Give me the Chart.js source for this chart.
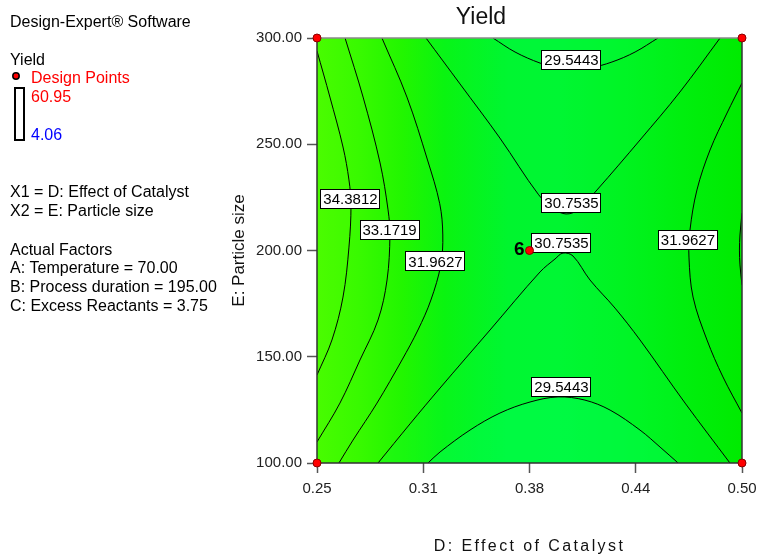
<!DOCTYPE html>
<html>
<head>
<meta charset="utf-8">
<script src="https://cdn.jsdelivr.net/npm/chart.js@4.4.1/dist/chart.umd.min.js"></script>
<style>
  html, body { margin: 0; padding: 0; background: #fff; }
  #wrap { width: 758px; height: 557px; }
</style>
</head>
<body>
<div id="wrap"><canvas id="yieldChart" width="758" height="557"></canvas></div>
<script>
// factor ranges: D = Effect of Catalyst (x), E = Particle size (y)
var xRange = [0.25, 0.50];
var yRange = [100, 300];
var xTicks = [0.25, 0.3125, 0.375, 0.4375, 0.50];
var xTickLabels = ["0.25", "0.31", "0.38", "0.44", "0.50"];
var yTicks = [100, 150, 200, 250, 300];
var yTickLabels = ["100.00", "150.00", "200.00", "250.00", "300.00"];

// design points [D, E] and number of runs at each
var designPoints = [[0.25, 100], [0.25, 300], [0.50, 100], [0.50, 300], [0.375, 200]];
var designRuns = [1, 1, 1, 1, 6];

// contour levels of Yield
var levels = [29.5443, 30.7535, 31.9627, 33.1719, 34.3812];

// contour traces [D, E]
var c34_38 = [[0.25,293.9],[0.2576,272.2],[0.2653,248.7],[0.2688,233.2],[0.2700,221.4],[0.2688,201.6],[0.2653,178.1],[0.2588,157.9],[0.25,141.4]];
var c33_17 = [[0.2665,300],[0.2771,272.2],[0.2871,241.2],[0.2918,219.1],[0.2929,207.3],[0.2912,186.1],[0.2859,167.3],[0.2753,148.5],[0.2635,128.2],[0.25,109.9]];
var c33_17R = [[0.5,217.6],[0.4988,207.3],[0.4985,200.2],[0.4988,193.2],[0.5,183.8]];
var c31_96 = [[0.2882,300],[0.3029,272.2],[0.3150,242.6],[0.3222,222.0],[0.3240,207.3],[0.3228,193.2],[0.3170,176.7],[0.3094,162.6],[0.3000,148.5],[0.2853,128.2],[0.2712,110.8],[0.2629,100]];
var c31_96R = [[0.5,278.8],[0.4912,264.7],[0.4812,247.3],[0.4735,228.5],[0.4694,209.6],[0.4688,196.9],[0.4712,178.1],[0.4794,157.9],[0.4888,140.5],[0.5,123.5]];
var c30_75T = [[0.3141,300],[0.3341,278.4],[0.3576,252.9],[0.3804,226.2],[0.3894,219.5],[0.3965,217.2],[0.4035,219.1],[0.4147,228.5],[0.4400,252.0],[0.4635,274.6],[0.4871,300]];
var c30_75B = [[0.2859,100],[0.3047,118.4],[0.3224,135.3],[0.3518,162.6],[0.3812,189.9],[0.3900,196.0],[0.3947,198.8],[0.4006,197.4],[0.4106,186.1],[0.4253,172.9],[0.4400,157.9],[0.4665,128.2],[0.4929,100]];
var c29_54T = [[0.3535,300],[0.3665,293.4],[0.3812,288.2],[0.3929,285.6],[0.4006,285.2],[0.4106,285.9],[0.4235,288.7],[0.4371,293.4],[0.4506,300]];
var c29_54B = [[0.3153,100],[0.3224,105.2],[0.3400,115.5],[0.3576,123.5],[0.3753,128.7],[0.3918,131.1],[0.4076,129.6],[0.4224,124.9],[0.4400,115.5],[0.4518,107.5],[0.4624,100]];

// value tags placed on the contours
var labelLevels = [29.5443, 30.7535, 30.7535, 29.5443, 34.3812, 33.1719, 31.9627, 31.9627];
var labelX = [0.3994, 0.3994, 0.3935, 0.3935, 0.2694, 0.2924, 0.3194, 0.4679];
var labelY = [290.1, 222.8, 204.0, 136.2, 224.7, 210.1, 195.1, 205.2];

var FONT = '"Liberation Sans", Arial, sans-serif';

function pts(arr) {
  return arr.map(function (p) { return { x: p[0], y: p[1] }; });
}

// left-to-right shading of the response surface
function surfaceShade(c) {
  var a = c.chart.chartArea;
  if (!a) return "#00f42c";
  var g = c.chart.ctx.createLinearGradient(a.left, 0, a.right, 0);
  g.addColorStop(0.00, "#48fc00");
  g.addColorStop(0.10, "#38fa00");
  g.addColorStop(0.20, "#22f600");
  g.addColorStop(0.30, "#0af410");
  g.addColorStop(0.45, "#00f52e");
  g.addColorStop(0.57, "#00f530");
  g.addColorStop(0.72, "#00f320");
  g.addColorStop(0.86, "#00ef0e");
  g.addColorStop(1.00, "#00eb00");
  return g;
}

// filled region bounded by a contour (drawn under the lines)
function band(arr, color, order) {
  return {
    data: pts(arr), fill: "shape", backgroundColor: color,
    borderColor: "transparent", borderWidth: 0, pointRadius: 0,
    tension: 0, order: order
  };
}

function contour(arr) {
  return {
    data: pts(arr), fill: false, borderColor: "#000", borderWidth: 1,
    pointRadius: 0, tension: 0.35, order: 5
  };
}

var x0 = xRange[0], x1 = xRange[1], y0 = yRange[0], y1 = yRange[1];

var datasets = [
  band([[x0, y0], [x0, y1], [x1, y1], [x1, y0]], surfaceShade, 40),
  band(c34_38, "rgba(90,255,0,0.18)", 37),
  band(c30_75T, "rgba(0,255,70,0.16)", 36),
  band(c29_54T, "rgba(0,255,80,0.2)", 35),
  band(c30_75B, "rgba(0,255,70,0.22)", 36),
  band(c29_54B, "rgba(0,255,90,0.4)", 35),
  contour(c34_38), contour(c33_17), contour(c33_17R), contour(c31_96), contour(c31_96R),
  contour(c30_75T), contour(c30_75B), contour(c29_54T), contour(c29_54B)
];

datasets.push({
  label: "Design Points",
  data: pts(designPoints),
  showLine: false,
  pointRadius: 4,
  pointBackgroundColor: "#ff0000",
  pointBorderColor: "#8a0000",
  pointBorderWidth: 1,
  clip: false,
  order: 0
});
var pointsIndex = datasets.length - 1;

var decor = {
  id: "decor",
  beforeDatasetDraw: function (chart, args) {
    if (args.index !== pointsIndex) return;
    var ctx = chart.ctx, a = chart.chartArea;
    var xs = chart.scales.x, ys = chart.scales.y;
    ctx.save();
    // plot frame
    ctx.lineWidth = 1.5;
    ctx.strokeStyle = "#8a8a8a";
    ctx.beginPath(); ctx.moveTo(a.left, a.top); ctx.lineTo(a.right, a.top); ctx.stroke();
    ctx.strokeStyle = "#333";
    ctx.beginPath();
    ctx.moveTo(a.right, a.top); ctx.lineTo(a.right, a.bottom);
    ctx.lineTo(a.left, a.bottom); ctx.lineTo(a.left, a.top);
    ctx.stroke();
    // contour value tags
    ctx.font = "15px " + FONT;
    ctx.textAlign = "center";
    ctx.textBaseline = "middle";
    for (var i = 0; i < labelLevels.length; i++) {
      var t = labelLevels[i].toFixed(4);
      var cx = xs.getPixelForValue(labelX[i]);
      var cy = ys.getPixelForValue(labelY[i]);
      var w = Math.round(ctx.measureText(t).width + 5), h = 19;
      var bx = Math.round(cx - w / 2), by = Math.round(cy - h / 2);
      ctx.fillStyle = "#fff";
      ctx.fillRect(bx, by, w, h);
      ctx.strokeStyle = "#000";
      ctx.lineWidth = 1;
      ctx.strokeRect(bx + 0.5, by + 0.5, w, h);
      ctx.fillStyle = "#000";
      ctx.fillText(t, cx + 0.5, cy + 1.5);
    }
    // run counts next to replicated points
    ctx.font = "bold 19px " + FONT;
    ctx.textAlign = "right";
    ctx.textBaseline = "alphabetic";
    for (var j = 0; j < designPoints.length; j++) {
      if (designRuns[j] < 2) continue;
      var px = xs.getPixelForValue(designPoints[j][0]);
      var py = ys.getPixelForValue(designPoints[j][1]);
      ctx.fillText(String(designRuns[j]), px - 5, py + 4);
    }
    ctx.restore();
  },
  afterDraw: function (chart) {
    var ctx = chart.ctx, a = chart.chartArea;
    ctx.save();
    ctx.textAlign = "left";
    ctx.textBaseline = "alphabetic";
    ctx.font = "16px " + FONT;
    ctx.fillStyle = "#000";
    ctx.fillText("Design-Expert\u00ae Software", 10, 27);
    ctx.fillText("Yield", 10, 65);
    ctx.fillStyle = "#ff0000";
    ctx.fillText("Design Points", 31, 83);
    ctx.fillText("60.95", 31, 102);
    ctx.fillStyle = "#0000ff";
    ctx.fillText("4.06", 31, 140);
    ctx.fillStyle = "#000";
    ctx.fillText("X1 = D: Effect of Catalyst", 10, 197);
    ctx.fillText("X2 = E: Particle size", 10, 216);
    ctx.fillText("Actual Factors", 10, 255);
    ctx.fillText("A: Temperature = 70.00", 10, 273);
    ctx.fillText("B: Process duration = 195.00", 10, 292);
    ctx.fillText("C: Excess Reactants = 3.75", 10, 311);
    // legend marker and colour bar outline
    ctx.beginPath();
    ctx.arc(16, 76, 3.2, 0, Math.PI * 2);
    ctx.fillStyle = "#ff0000";
    ctx.fill();
    ctx.lineWidth = 1.5;
    ctx.strokeStyle = "#000";
    ctx.stroke();
    ctx.lineWidth = 2;
    ctx.strokeRect(15, 88, 9, 52);
    // x axis title
    ctx.font = "16px " + FONT;
    ctx.textAlign = "center";
    ctx.letterSpacing = "2.4px";
    ctx.fillStyle = "#111";
    ctx.fillText("D: Effect of Catalyst", (a.left + a.right) / 2, 551);
    ctx.restore();
  }
};

new Chart(document.getElementById("yieldChart"), {
  type: "line",
  data: { datasets: datasets },
  plugins: [decor],
  options: {
    responsive: false,
    animation: false,
    events: [],
    layout: { padding: { left: 220, right: 16, top: 0, bottom: 0 } },
    plugins: {
      legend: { display: false },
      tooltip: { enabled: false },
      filler: { drawTime: "beforeDatasetsDraw" },
      title: {
        display: true,
        text: "Yield",
        color: "#111",
        font: { family: FONT, size: 23, weight: "normal" },
        padding: { top: 4.2, bottom: 6.2 }
      }
    },
    scales: {
      x: {
        type: "linear",
        min: xRange[0],
        max: xRange[1],
        afterBuildTicks: function (s) { s.ticks = xTicks.map(function (v) { return { value: v }; }); },
        afterFit: function (s) { s.height = 94; s.paddingLeft = 0; s.paddingRight = 0; },
        ticks: {
          maxRotation: 0,
          autoSkip: false,
          padding: 7,
          color: "#222",
          font: { family: FONT, size: 15 },
          callback: function (v, i) { return xTickLabels[i]; }
        },
        grid: { drawOnChartArea: false, drawTicks: true, tickLength: 10, tickColor: "#555", tickWidth: 1.5 },
        border: { display: false }
      },
      y: {
        min: yRange[0],
        max: yRange[1],
        afterBuildTicks: function (s) { s.ticks = yTicks.map(function (v) { return { value: v }; }); },
        afterFit: function (s) { s.width = 97; },
        ticks: {
          autoSkip: false,
          padding: 5,
          color: "#222",
          font: { family: FONT, size: 15 },
          callback: function (v, i) { return yTickLabels[i]; }
        },
        grid: { drawOnChartArea: false, drawTicks: true, tickLength: 10, tickColor: "#555", tickWidth: 1.5 },
        border: { display: false },
        title: {
          display: true,
          text: "E: Particle size",
          color: "#111",
          font: { family: FONT, size: 17 },
          padding: { top: 9 }
        }
      }
    }
  }
});
</script>
</body>
</html>
